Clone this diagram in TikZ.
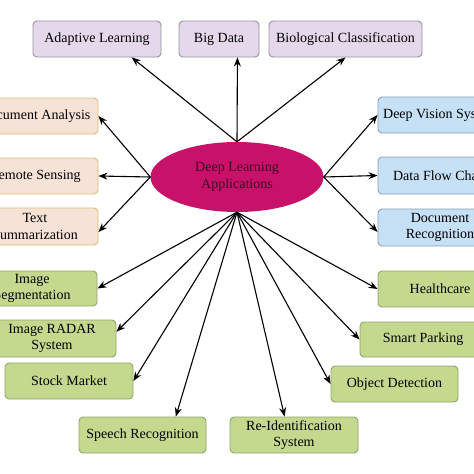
\documentclass[tikz,border=0pt]{standalone}
\usepackage{fontspec}
\setmainfont{Liberation Serif}
\usetikzlibrary{arrows.meta, shapes.geometric}

\definecolor{hubfill}{RGB}{200,18,105}
\definecolor{hubtext}{RGB}{60,10,38}
\definecolor{lilac}{RGB}{228,216,234}
\definecolor{lilacline}{RGB}{150,146,160}
\definecolor{peach}{RGB}{247,226,216}
\definecolor{peachline}{RGB}{214,190,118}
\definecolor{skyblue}{RGB}{198,224,246}
\definecolor{skyline}{RGB}{140,160,180}
\definecolor{leaf}{RGB}{196,216,142}
\definecolor{leafline}{RGB}{146,164,108}

\begin{document}
\begin{tikzpicture}[
        x=1pt, y=-1pt, >={Stealth[length=9pt,width=7pt]},
        every node/.style={font=\fontsize{14}{16.5}\selectfont},
        appbox/.style={rectangle, rounded corners=4pt, line width=0.9pt,
          minimum height=36pt, inner sep=2pt, align=center},
        lilacbox/.style={appbox, fill=lilac, draw=lilacline},
        peachbox/.style={appbox, fill=peach, draw=peachline},
        bluebox/.style={appbox, fill=skyblue, draw=skyline},
        leafbox/.style={appbox, fill=leaf, draw=leafline},
        hub/.style={ellipse, fill=hubfill, text=hubtext, minimum width=173pt,
          minimum height=70pt, inner sep=0pt, align=center}
        ]
        \useasboundingbox (0,0) rectangle (474,474);
        \clip (0,0) rectangle (474,474);

        \node[hub]                                    (hub)      at (237,177)   {Deep Learning\\Applications};

        % top row
        \node[lilacbox, minimum width=128pt]          (adapt)    at (97,39)     {Adaptive Learning};
        \node[lilacbox, minimum width=80pt]           (bigdata)  at (219,39)    {Big Data};
        \node[lilacbox, minimum width=153pt]          (bioclass) at (345.5,39)  {Biological Classification};

        % left side
        \node[peachbox, minimum width=126pt]          (docana)   at (35,116)    {Document Analysis};
        \node[peachbox, minimum width=126pt]          (remote)   at (35,176)    {Remote Sensing};
        \node[peachbox, minimum width=126pt, minimum height=37pt] (textsum) at (35,226.5) {Text\\Summarization};

        % right side
        \node[bluebox, minimum width=130pt]           (vision)   at (443,115)   {Deep Vision Systems};
        \node[bluebox, minimum width=129pt, minimum height=37pt] (dataflow) at (442.5,175.5) {Data Flow Charts};
        \node[bluebox, minimum width=124pt, minimum height=37pt] (docrec)   at (440,227.5)   {Document\\Recognition};

        % bottom half
        \node[leafbox, minimum width=130pt, minimum height=35pt] (imgseg)  at (32,288.5)  {Image\\Segmentation};
        \node[leafbox, minimum width=128pt, minimum height=37pt] (radar)   at (52,338.5)  {Image RADAR\\System};
        \node[leafbox, minimum width=128pt]           (stock)    at (69,381)    {Stock Market};
        \node[leafbox, minimum width=127pt]           (speech)   at (142.5,435) {Speech Recognition};
        \node[leafbox, minimum width=128pt]           (reid)     at (294,435)   {Re-Identification\\System};
        \node[leafbox, minimum width=127pt]           (objdet)   at (394.5,384) {Object Detection};
        \node[leafbox, minimum width=126pt, minimum height=35pt] (parking) at (423,339.5) {Smart Parking};
        \node[leafbox, minimum width=124pt]           (health)   at (440,289)   {Healthcare};

        \path[->, line width=1.1pt] (hub.north) edge (adapt.-28)
                                                edge (bigdata.-45)
                                                edge (bioclass.south);
        \path[->, line width=1.1pt] (hub.west)  edge (docana.east)
                                                edge (remote.east)
                                                edge (textsum.-5);
        \path[->, line width=1.1pt] (hub.east)  edge (vision.west)
                                                edge (dataflow.west)
                                                edge (docrec.184);
        \path[->, line width=1.1pt] (hub.south) edge (imgseg.east)
                                                edge (radar.6)
                                                edge (stock.east)
                                                edge (speech.29)
                                                edge (reid.117)
                                                edge (objdet.west)
                                                edge (parking.west)
                                                edge (health.west);
      \end{tikzpicture}
\end{document}
